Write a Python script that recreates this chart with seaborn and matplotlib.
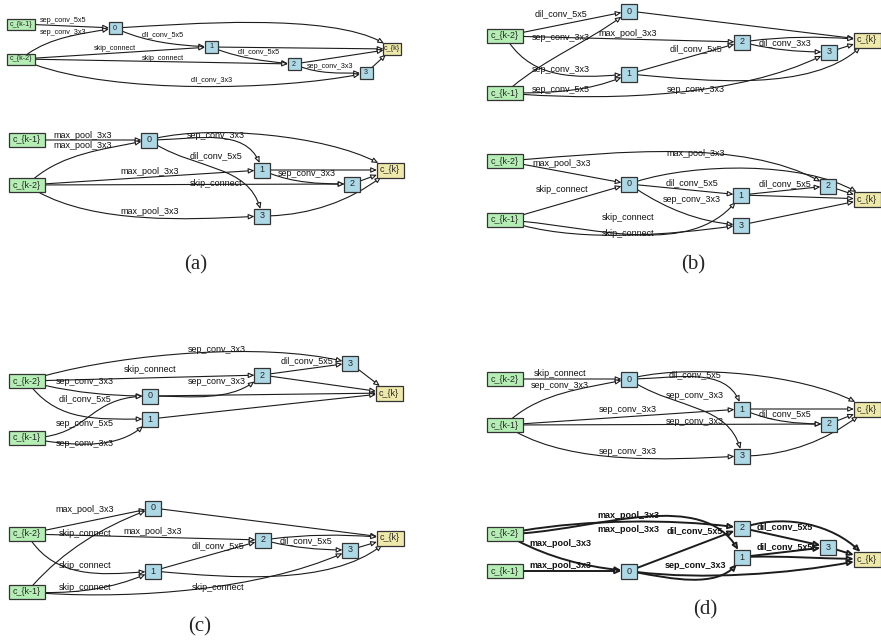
import numpy as np
import matplotlib
matplotlib.use("Agg")
import matplotlib.pyplot as plt
import seaborn as sns
from matplotlib.patches import Rectangle, FancyArrowPatch, ConnectionStyle
from matplotlib.path import Path

# ---- cell topologies: (source, target, operation) ----
a1_edges = [("c_{k-1}", "0", "sep_conv_5x5"), ("c_{k-2}", "0", "sep_conv_3x3"),
            ("0", "1", "dil_conv_5x5"), ("c_{k-2}", "1", "skip_connect"),
            ("1", "2", "dil_conv_5x5"), ("c_{k-2}", "2", "skip_connect"),
            ("2", "3", "sep_conv_3x3"), ("c_{k-2}", "3", "dil_conv_3x3")]
a2_edges = [("c_{k-1}", "0", "max_pool_3x3"), ("c_{k-2}", "0", "max_pool_3x3"),
            ("0", "1", "sep_conv_3x3"), ("0", "3", "dil_conv_5x5"),
            ("c_{k-2}", "1", "max_pool_3x3"), ("1", "2", "sep_conv_3x3"),
            ("c_{k-2}", "2", "skip_connect"), ("c_{k-2}", "3", "max_pool_3x3")]
b1_edges = [("c_{k-2}", "0", "dil_conv_5x5"), ("c_{k-1}", "0", "sep_conv_3x3"),
            ("c_{k-2}", "1", "sep_conv_3x3"), ("c_{k-1}", "1", "sep_conv_5x5"),
            ("c_{k-2}", "2", "max_pool_3x3"), ("1", "2", "dil_conv_5x5"),
            ("2", "3", "dil_conv_3x3"), ("c_{k-1}", "3", "sep_conv_3x3")]
b2_edges = [("c_{k-2}", "0", "max_pool_3x3"), ("c_{k-2}", "2", "max_pool_3x3"),
            ("c_{k-1}", "0", "skip_connect"), ("0", "1", "dil_conv_5x5"),
            ("0", "3", "sep_conv_3x3"), ("c_{k-1}", "1", "skip_connect"),
            ("c_{k-1}", "3", "skip_connect"), ("1", "2", "dil_conv_5x5")]
c1_edges = [("c_{k-2}", "0", "sep_conv_3x3"), ("c_{k-2}", "1", "dil_conv_5x5"),
            ("c_{k-2}", "2", "skip_connect"), ("c_{k-1}", "0", "sep_conv_5x5"),
            ("c_{k-1}", "1", "sep_conv_3x3"), ("0", "2", "sep_conv_3x3"),
            ("c_{k-2}", "3", "sep_conv_3x3"), ("2", "3", "dil_conv_5x5")]
c2_edges = [("c_{k-2}", "0", "max_pool_3x3"), ("c_{k-2}", "2", "skip_connect"),
            ("c_{k-1}", "0", "max_pool_3x3"), ("c_{k-2}", "1", "skip_connect"),
            ("c_{k-1}", "1", "skip_connect"), ("c_{k-1}", "3", "skip_connect"),
            ("1", "2", "dil_conv_5x5"), ("2", "3", "dil_conv_5x5")]
d1_edges = [("c_{k-2}", "0", "skip_connect"), ("c_{k-1}", "0", "sep_conv_3x3"),
            ("0", "1", "dil_conv_5x5"), ("0", "3", "sep_conv_3x3"),
            ("c_{k-1}", "1", "sep_conv_3x3"), ("c_{k-1}", "2", "sep_conv_3x3"),
            ("1", "2", "dil_conv_5x5"), ("c_{k-1}", "3", "sep_conv_3x3")]
d2_edges = [("c_{k-2}", "2", "max_pool_3x3"), ("c_{k-2}", "1", "max_pool_3x3"),
            ("c_{k-2}", "0", "max_pool_3x3"), ("c_{k-1}", "0", "max_pool_3x3"),
            ("0", "2", "dil_conv_5x5"), ("0", "1", "sep_conv_3x3"),
            ("2", "3", "dil_conv_5x5"), ("1", "3", "dil_conv_5x5")]
intermediate = ["0", "1", "2", "3"]
captions = ["(a)", "(b)", "(c)", "(d)"]

# ---- layout (pixel coordinates of the 881x642 canvas) ----
a1_nodes = {"c_{k-1}": (21, 24), "c_{k-2}": (21, 59), "0": (115, 28), "1": (211, 47),
            "2": (294, 64), "3": (366, 73), "c_{k}": (392, 49)}
a2_nodes = {"c_{k-1}": (27, 140), "c_{k-2}": (27, 185), "0": (149, 140), "1": (262, 170),
            "2": (352, 184), "3": (262, 216), "c_{k}": (390, 170)}
b1_nodes = {"c_{k-2}": (505, 36), "c_{k-1}": (505, 93), "0": (629, 11), "1": (629, 74),
            "2": (742, 42), "3": (829, 52), "c_{k}": (867, 40)}
b2_nodes = {"c_{k-2}": (505, 161), "c_{k-1}": (505, 220), "0": (629, 184), "1": (741, 195),
            "2": (828, 186), "3": (741, 225), "c_{k}": (867, 199)}
c1_nodes = {"c_{k-2}": (27, 381), "c_{k-1}": (27, 438), "0": (150, 396), "1": (150, 419),
            "2": (262, 375), "3": (350, 363), "c_{k}": (389, 393)}
c2_nodes = {"c_{k-2}": (27, 534), "c_{k-1}": (27, 592), "0": (153, 508), "1": (153, 571),
            "2": (263, 540), "3": (350, 550), "c_{k}": (390, 538)}
d1_nodes = {"c_{k-2}": (505, 379), "c_{k-1}": (505, 425), "0": (629, 379), "1": (742, 409),
            "2": (829, 424), "3": (742, 456), "c_{k}": (867, 409)}
d2_nodes = {"c_{k-2}": (505, 534), "c_{k-1}": (505, 571), "0": (629, 571), "1": (742, 557),
            "2": (742, 528), "3": (828, 547), "c_{k}": (867, 559)}

# routes: (angle out, angle in, arm, label x, label y); None angles -> straight
a1_routes = [(None, None, .35, 63, 21), (40, 10, .35, 63, 32), (-25, -3, .35, 163, 35),
             (None, None, .35, 115, 48), (-22, -5, .35, 259, 52), (None, None, .35, 163, 58),
             (-25, 0, .35, 330, 66), (-25, 12, .25, 212, 80)]
a1_out = [(3, -40, .22), None, None, None]
a2_routes = [(None, None, .35, 83, 135), (45, 12, .35, 83, 146), (0, -75, .4, 216, 136),
             (-35, -80, .4, 216, 156), (None, None, .35, 150, 171), (-25, 0, .35, 307, 174),
             (None, None, .35, 216, 183), (-35, 3, .3, 150, 211)]
a2_out = [(16, -35, .25), None, None, (0, 40, .35)]
b1_routes = [(None, None, .35, 561, 14), (42, 38, .35, 561, 37), (-60, 5, .4, 561, 69),
             (0, 25, .35, 561, 89), (None, None, .35, 628, 34), (None, None, .35, 696, 49),
             (-15, 0, .35, 785, 43), (-5, 28, .3, 696, 89)]
b1_out = [None, (-5, 50, .3), (8, -5, .35), None]
b2_routes = [(None, None, .35, 562, 163), (4, -32, .3, 696, 153), (None, None, .35, 562, 189),
             (None, None, .35, 692, 183), (-35, -3, .35, 692, 200), (-3, 55, .35, 628, 218),
             (-20, 8, .3, 628, 234), (None, None, .35, 785, 184)]
b2_out = [(20, -38, .27), None, None, None]
c1_routes = [(-15, 0, .35, 85, 381), (-55, 0, .4, 85, 399), (None, None, .35, 150, 369),
             (0, 0, .5, 85, 424), (-10, 50, .35, 85, 443), (0, 45, .35, 217, 381),
             (18, -15, .27, 217, 350), (None, None, .35, 307, 361)]
c1_out = [None, None, None, None]
c2_routes = [(None, None, .35, 85, 510), (None, None, .35, 85, 533), (50, 20, .35, 153, 531),
             (-60, 5, .4, 85, 566), (-3, 25, .35, 85, 587), (-5, 25, .3, 218, 587),
             (None, None, .35, 218, 546), (-15, 0, .35, 306, 541)]
c2_out = [None, (-5, 45, .3), (8, -5, .35), None]
d1_routes = [(None, None, .35, 560, 374), (45, 12, .35, 560, 385), (0, -75, .4, 695, 375),
             (-35, -80, .4, 695, 396), (None, None, .35, 628, 410), (None, None, .35, 695, 422),
             (-25, 0, .35, 785, 414), (-35, 3, .3, 628, 452)]
d1_out = [(16, -35, .25), None, None, (0, 40, .35)]
d2_routes = [(12, -8, .3, 628, 515), (0, -65, .35, 628, 529), (-30, -5, .35, 560, 543),
             (None, None, .35, 560, 565), (None, None, .35, 695, 531), (-10, 60, .35, 695, 565),
             (None, None, .35, 785, 527), (None, None, .35, 785, 547)]
d2_out = [(-8, 12, .3), (2, 0, .35), (20, -50, .35), None]
caption_xy = [(196, 265), (693, 265), (200, 627), (705, 610)]

FILL = {"in": "#b4eeb4", "mid": "#add8e6", "out": "#eee8aa"}
EDGE = "#1c1c1c"


class Spline(ConnectionStyle._Base):
    """Cubic bezier leaving/arriving at given angles (degrees, display space)."""

    def __init__(self, angleA=None, angleB=None, arm=0.35):
        self.angleA, self.angleB, self.arm = angleA, angleB, arm

    def connect(self, posA, posB):
        (x1, y1), (x2, y2) = posA, posB
        straight = np.degrees(np.arctan2(y2 - y1, x2 - x1))
        a = np.radians(straight if self.angleA is None else self.angleA)
        b = np.radians(straight if self.angleB is None else self.angleB)
        d = np.hypot(x2 - x1, y2 - y1) * self.arm
        c1 = (x1 + d * np.cos(a), y1 + d * np.sin(a))
        c2 = (x2 - d * np.cos(b), y2 - d * np.sin(b))
        return Path([posA, c1, c2, posB],
                    [Path.MOVETO, Path.CURVE4, Path.CURVE4, Path.CURVE4])


def draw_cell(ax, nodes, edges, routes, out_routes, small=False, bold=False):
    fs = 5.2 if small else 6.5
    if small:
        sizes = {"in": (28, 11), "mid": (13, 12), "out": (18, 12)}
    else:
        sizes = {"in": (36, 14), "mid": (16, 15), "out": (27, 15)}
    lw = 1.4 if bold else 0.8
    weight = "bold" if bold else "normal"

    boxes = {}
    for name, (x, y) in nodes.items():
        kind = "in" if name.startswith("c_{k-") else ("out" if name == "c_{k}" else "mid")
        w, h = sizes[kind]
        box = Rectangle((x - w / 2, y - h / 2), w, h, fc=FILL[kind], ec="#333333",
                        lw=0.9, zorder=3)
        ax.add_patch(box)
        ax.text(x, y, name, ha="center", va="center", fontsize=fs, zorder=4)
        boxes[name] = box

    all_edges = list(edges) + [(n, "c_{k}", "") for n in intermediate]
    all_routes = list(routes) + [
        (r[0], r[1], r[2], None, None) if r else (None, None, 0.35, None, None)
        for r in out_routes
    ]
    for (src, dst, op), (aA, aB, arm, lx, ly) in zip(all_edges, all_routes):
        arrow = FancyArrowPatch(
            posA=nodes[src], posB=nodes[dst], patchA=boxes[src], patchB=boxes[dst],
            connectionstyle=Spline(aA, aB, arm),
            arrowstyle="-|>,head_length=0.5,head_width=0.22", mutation_scale=7,
            shrinkA=0, shrinkB=0, lw=lw, ec=EDGE, fc="white", zorder=2)
        ax.add_patch(arrow)
        if op:
            ax.text(lx, ly, op, ha="center", va="center", fontsize=fs,
                    fontweight=weight, color="#111111", zorder=4)


sns.set_theme(style="white")
plt.rcParams["font.family"] = ["Liberation Sans", "DejaVu Sans"]

fig = plt.figure(figsize=(8.81, 6.42), dpi=100)
ax = fig.add_axes([0, 0, 1, 1])
ax.set_xlim(0, 881)
ax.set_ylim(642, 0)
ax.axis("off")

draw_cell(ax, a1_nodes, a1_edges, a1_routes, a1_out, small=True)
draw_cell(ax, a2_nodes, a2_edges, a2_routes, a2_out)
draw_cell(ax, b1_nodes, b1_edges, b1_routes, b1_out)
draw_cell(ax, b2_nodes, b2_edges, b2_routes, b2_out)
draw_cell(ax, c1_nodes, c1_edges, c1_routes, c1_out)
draw_cell(ax, c2_nodes, c2_edges, c2_routes, c2_out)
draw_cell(ax, d1_nodes, d1_edges, d1_routes, d1_out)
draw_cell(ax, d2_nodes, d2_edges, d2_routes, d2_out, bold=True)

for text, (x, y) in zip(captions, caption_xy):
    ax.text(x, y, text, ha="center", va="center", fontsize=15,
            family=["Liberation Serif", "DejaVu Serif"])

fig.savefig("out.png", dpi=100)
